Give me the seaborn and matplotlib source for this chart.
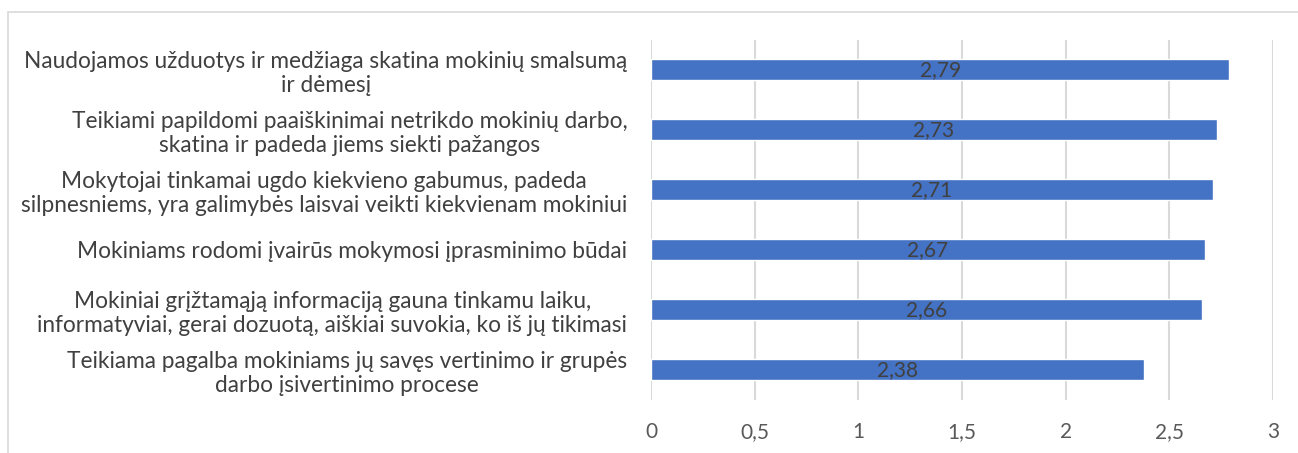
import matplotlib
matplotlib.use("Agg")
import matplotlib.pyplot as plt
import seaborn as sns
import pandas as pd
from matplotlib.patches import Rectangle

categories = [
    "Naudojamos užduotys ir medžiaga skatina mokinių smalsumą\nir dėmesį",
    "Teikiami papildomi paaiškinimai netrikdo mokinių darbo,\nskatina ir padeda jiems siekti pažangos",
    "Mokytojai tinkamai ugdo kiekvieno gabumus, padeda\nsilpnesniems, yra galimybės laisvai veikti kiekvienam mokiniui",
    "Mokiniams rodomi įvairūs mokymosi įprasminimo būdai",
    "Mokiniai grįžtamąją informaciją gauna tinkamu laiku,\ninformatyviai, gerai dozuotą, aiškiai suvokia, ko iš jų tikimasi",
    "Teikiama pagalba mokiniams jų savęs vertinimo ir grupės\ndarbo įsivertinimo procese",
]
values = [2.79, 2.73, 2.71, 2.67, 2.66, 2.38]
x_ticks = [0, 0.5, 1, 1.5, 2, 2.5, 3]
x_tick_labels = ["0", "0,5", "1", "1,5", "2", "2,5", "3"]

df = pd.DataFrame({"cat": categories, "val": values})

sns.set_theme(style="white")
plt.rcParams["font.family"] = ["Lato", "DejaVu Sans"]

fig = plt.figure(figsize=(12.98, 4.53), dpi=100)
ax = fig.add_axes([0.5015, 0.117, 0.4792, 0.795])

sns.barplot(data=df, x="val", y="cat", orient="h", color="#4472C4",
            saturation=1, width=0.35, ax=ax, zorder=3)

ax.set_xlim(0, 3)
ax.set_xticks(x_ticks)
ax.set_xticklabels(x_tick_labels, fontsize=15, color="#595959")
ax.tick_params(axis="x", length=0, pad=16)
ax.tick_params(axis="y", length=0, pad=17)
for lbl in ax.get_yticklabels():
    lbl.set_fontsize(16.3)
    lbl.set_color("#404040")
    lbl.set_multialignment("center")
    lbl.set_linespacing(1.2)
ax.set_xlabel("")
ax.set_ylabel("")
ax.grid(axis="x", color="#D9D9D9", linewidth=1.5, zorder=0)
ax.set_axisbelow(True)
for s in ax.spines.values():
    s.set_visible(False)

for p, v in zip(ax.patches, values):
    y = p.get_y() + p.get_height() / 2
    ax.text(v / 2, y, f"{v:.2f}".replace(".", ","), ha="center", va="center",
            fontsize=15, color="#404040", zorder=4)

fig.patches.append(Rectangle((8 / 1298, -0.05), 1.1, 1.05 - 12 / 453, transform=fig.transFigure,
                             fill=False, edgecolor="#D9D9D9", linewidth=1.2))

fig.savefig("out.png", dpi=100)
